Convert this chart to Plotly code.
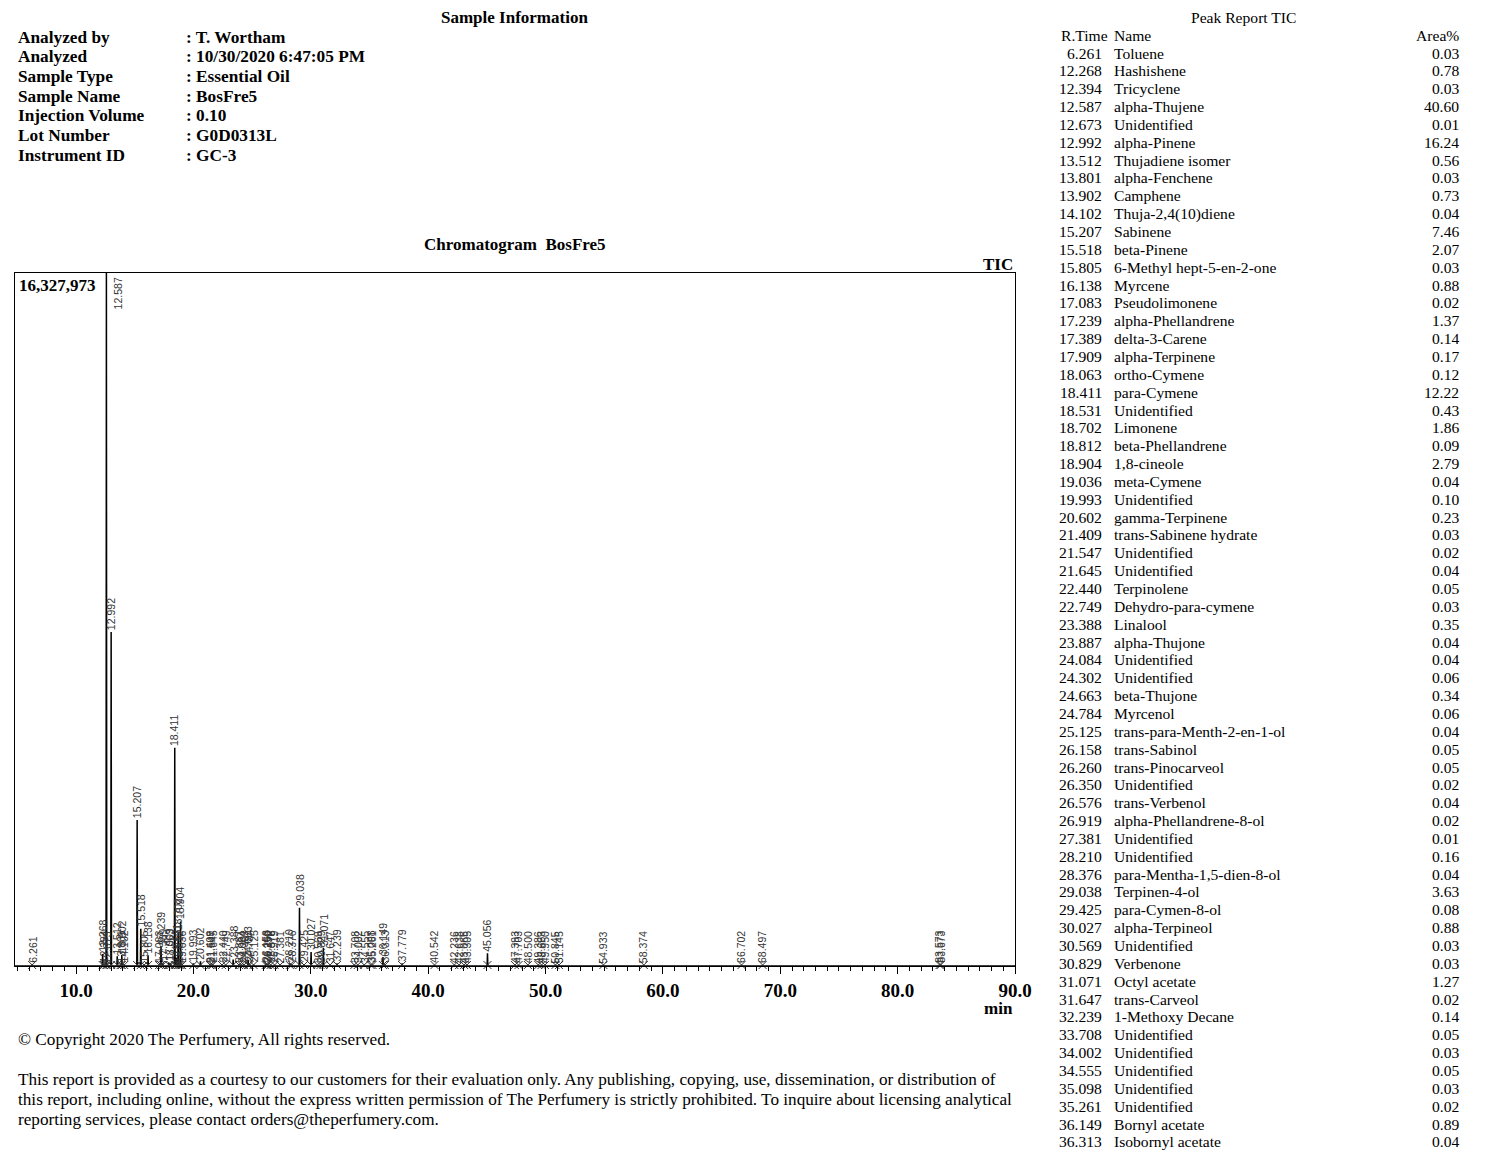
import plotly.graph_objects as go

# ---------------- data ----------------
FULL_SCALE = 16327973

peak_rt = [6.261, 12.268, 12.394, 12.587, 12.673, 12.992, 13.512, 13.801, 13.902, 14.102,
           15.207, 15.518, 15.805, 16.138, 17.083, 17.239, 17.389, 17.909, 18.063, 18.411,
           18.531, 18.702, 18.812, 18.904, 19.036, 19.993, 20.602, 21.409, 21.547, 21.645,
           22.440, 22.749, 23.388, 23.887, 24.084, 24.302, 24.663, 24.784, 25.125, 26.158,
           26.260, 26.350, 26.576, 26.919, 27.381, 28.210, 28.376, 29.038, 29.425, 30.027,
           30.569, 30.829, 31.071, 31.647, 32.239, 33.708, 34.002, 34.555, 35.098, 35.261,
           36.149, 36.313, 37.779, 40.542, 42.236, 42.638, 43.065, 43.305, 45.056, 47.393,
           47.703, 48.500, 49.386, 49.663, 49.950, 50.845, 51.145, 54.933, 58.374, 66.702,
           68.497, 83.573, 83.673]

peak_height = [35000, 280000, 40000, 16327973, 20000, 7870000, 230000, 30000, 260000, 40000,
               3440000, 880000, 40000, 250000, 30000, 470000, 70000, 80000, 60000, 5140000,
               200000, 800000, 45000, 1050000, 30000, 60000, 110000, 25000, 20000, 30000,
               35000, 25000, 150000, 30000, 30000, 40000, 140000, 40000, 30000, 35000,
               35000, 20000, 30000, 20000, 15000, 60000, 30000, 1370000, 45000, 330000,
               25000, 25000, 430000, 20000, 60000, 30000, 25000, 30000, 25000, 20000,
               210000, 30000, 60000, 20000, 25000, 20000, 20000, 20000, 300000, 20000,
               15000, 15000, 20000, 15000, 15000, 20000, 15000, 15000, 15000, 15000,
               15000, 20000, 25000]

table_rt = ["6.261", "12.268", "12.394", "12.587", "12.673", "12.992", "13.512", "13.801",
            "13.902", "14.102", "15.207", "15.518", "15.805", "16.138", "17.083", "17.239",
            "17.389", "17.909", "18.063", "18.411", "18.531", "18.702", "18.812", "18.904",
            "19.036", "19.993", "20.602", "21.409", "21.547", "21.645", "22.440", "22.749",
            "23.388", "23.887", "24.084", "24.302", "24.663", "24.784", "25.125", "26.158",
            "26.260", "26.350", "26.576", "26.919", "27.381", "28.210", "28.376", "29.038",
            "29.425", "30.027", "30.569", "30.829", "31.071", "31.647", "32.239", "33.708",
            "34.002", "34.555", "35.098", "35.261", "36.149", "36.313"]

table_name = ["Toluene", "Hashishene", "Tricyclene", "alpha-Thujene", "Unidentified",
              "alpha-Pinene", "Thujadiene isomer", "alpha-Fenchene", "Camphene",
              "Thuja-2,4(10)diene", "Sabinene", "beta-Pinene", "6-Methyl hept-5-en-2-one",
              "Myrcene", "Pseudolimonene", "alpha-Phellandrene", "delta-3-Carene",
              "alpha-Terpinene", "ortho-Cymene", "para-Cymene", "Unidentified", "Limonene",
              "beta-Phellandrene", "1,8-cineole", "meta-Cymene", "Unidentified",
              "gamma-Terpinene", "trans-Sabinene hydrate", "Unidentified", "Unidentified",
              "Terpinolene", "Dehydro-para-cymene", "Linalool", "alpha-Thujone",
              "Unidentified", "Unidentified", "beta-Thujone", "Myrcenol",
              "trans-para-Menth-2-en-1-ol", "trans-Sabinol", "trans-Pinocarveol",
              "Unidentified", "trans-Verbenol", "alpha-Phellandrene-8-ol", "Unidentified",
              "Unidentified", "para-Mentha-1,5-dien-8-ol", "Terpinen-4-ol", "para-Cymen-8-ol",
              "alpha-Terpineol", "Unidentified", "Verbenone", "Octyl acetate", "trans-Carveol",
              "1-Methoxy Decane", "Unidentified", "Unidentified", "Unidentified",
              "Unidentified", "Unidentified", "Bornyl acetate", "Isobornyl acetate"]

table_area = ["0.03", "0.78", "0.03", "40.60", "0.01", "16.24", "0.56", "0.03", "0.73", "0.04",
              "7.46", "2.07", "0.03", "0.88", "0.02", "1.37", "0.14", "0.17", "0.12", "12.22",
              "0.43", "1.86", "0.09", "2.79", "0.04", "0.10", "0.23", "0.03", "0.02", "0.04",
              "0.05", "0.03", "0.35", "0.04", "0.04", "0.06", "0.34", "0.06", "0.04", "0.05",
              "0.05", "0.02", "0.04", "0.02", "0.01", "0.16", "0.04", "3.63", "0.08", "0.88",
              "0.03", "0.03", "1.27", "0.02", "0.14", "0.05", "0.03", "0.05", "0.03", "0.02",
              "0.89", "0.04"]

info_labels = ["Analyzed by", "Analyzed", "Sample Type", "Sample Name",
               "Injection Volume", "Lot Number", "Instrument ID"]
info_values = [": T. Wortham", ": 10/30/2020 6:47:05 PM", ": Essential Oil", ": BosFre5",
               ": 0.10", ": G0D0313L", ": GC-3"]

footer_lines = [
    "This report is provided as a courtesy to our customers for their evaluation only. Any publishing, copying, use, dissemination, or distribution of",
    "this report, including online, without the express written permission of The Perfumery is strictly prohibited. To inquire about licensing analytical",
    "reporting services, please contact orders@theperfumery.com.",
]

# ---------------- layout helpers ----------------
OFF = 8                      # page body margin of the browser
W, H = 1484, 1147
PL, PR, PT, PB = 15 - OFF, 1015 - OFF, 273 - OFF, 966 - OFF
SERIF = "Liberation Serif"
SANS = "Liberation Sans"


def pxx(xp):
    return (xp - OFF - PL) / (PR - PL)


def pxy(yp):
    return (PB - (yp - OFF)) / (PB - PT)


annotations = []


def text(s, x, y, xanchor="left", size=17, bold=False, yanchor="middle"):
    annotations.append(dict(
        text=f"<b>{s}</b>" if bold else s, x=pxx(x), y=pxy(y), xref="paper", yref="paper",
        xanchor=xanchor, yanchor=yanchor, showarrow=False,
        font=dict(family=SERIF, size=size, color="black")))


# ---------------- chromatogram trace ----------------
hw = 0.03
xs, ys = [4.8], [0]
for rt, h in sorted(zip(peak_rt, peak_height)):
    xs += [rt - hw, rt, rt + hw]
    ys += [0, h, 0]
xs.append(90.0)
ys.append(0)

fig = go.Figure()
fig.add_trace(go.Scatter(x=xs, y=ys, mode="lines",
                         line=dict(color="black", width=1.5), hoverinfo="skip"))

per_px = FULL_SCALE / (PB - PT)
# integration marks at baseline
fig.add_trace(go.Scatter(x=peak_rt, y=[-5 * per_px] * len(peak_rt), mode="markers",
                         marker=dict(symbol="line-ns", size=15, color="#333",
                                     line=dict(color="#333", width=1)),
                         cliponaxis=False, hoverinfo="skip"))
fig.add_trace(go.Scatter(x=peak_rt, y=[1 * per_px] * len(peak_rt), mode="markers",
                         marker=dict(symbol="x-thin", size=8, color="#333",
                                     line=dict(color="#333", width=1)),
                         cliponaxis=False, hoverinfo="skip"))

# peak labels
for rt, h in zip(peak_rt, peak_height):
    lab = f"{rt:.3f}"
    if h >= FULL_SCALE * 0.98:
        annotations.append(dict(text=lab, x=rt, y=FULL_SCALE, xref="x", yref="y",
                                xanchor="center", yanchor="top", xshift=12, yshift=-2,
                                textangle=-90, showarrow=False,
                                font=dict(family=SANS, size=10.5, color="#333")))
    else:
        annotations.append(dict(text=lab, x=rt, y=h, xref="x", yref="y",
                                xanchor="center", yanchor="bottom", yshift=0,
                                textangle=-90, showarrow=False,
                                font=dict(family=SANS, size=10.5, color="#333")))

# chart texts
text("16,327,973", 17, 285, bold=True, size=17)
text("TIC", 1015, 264, xanchor="right", bold=True, size=17)
text("min", 1015, 1008, xanchor="right", bold=True, size=17)
text("Chromatogram\u00a0 BosFre5", 515, 245, xanchor="center", bold=True, size=17)

# sample information
text("Sample Information", 514, 17, xanchor="center", bold=True, size=17)
for i, (lab, val) in enumerate(zip(info_labels, info_values)):
    y = 37 + i * 19.7
    text(lab, 16, y, bold=True, size=17.3)
    text(val, 184, y, bold=True, size=17.3)

# footer
text("\u00a9 Copyright 2020 The Perfumery, All rights reserved.", 16, 1039, size=17.2)
for i, line in enumerate(footer_lines):
    text(line, 16, 1079 + i * 20, size=17.2)

# peak report table
text("Peak Report TIC", 1243, 17, xanchor="center", size=15.6)
text("R.Time", 1059, 35, size=15.6)
text("Name", 1112, 35, size=15.6)
text("Area%", 1461, 35, xanchor="right", size=15.6)
for i, (r, n, a) in enumerate(zip(table_rt, table_name, table_area)):
    y = 53 + i * 17.85
    text(r, 1104, y, xanchor="right", size=15.6)
    text(n, 1112, y, size=15.6)
    text(a, 1461, y, xanchor="right", size=15.6)

fig.update_layout(
    width=W, height=H,
    margin=dict(l=PL, r=W - PR, t=PT, b=H - PB, pad=0),
    paper_bgcolor="white", plot_bgcolor="white",
    showlegend=False,
    font=dict(family=SERIF, color="black"),
    annotations=annotations,
    xaxis=dict(range=[4.8, 90], tickmode="linear", tick0=0, dtick=10, tickformat=".1f",
               ticks="outside", ticklen=7, tickcolor="black", tickwidth=1,
               showline=True, linecolor="black", linewidth=1, mirror=True,
               showgrid=False, zeroline=False,
               tickfont=dict(family=SERIF, size=19, color="black", weight="bold"),
               minor=dict(dtick=1, tick0=0, ticks="outside", ticklen=4,
                          tickcolor="black", showgrid=False)),
    yaxis=dict(range=[0, FULL_SCALE], showticklabels=False, ticks="",
               showline=True, linecolor="black", linewidth=1, mirror=True,
               showgrid=False, zeroline=False, fixedrange=True),
)

fig.write_html("out.html")
